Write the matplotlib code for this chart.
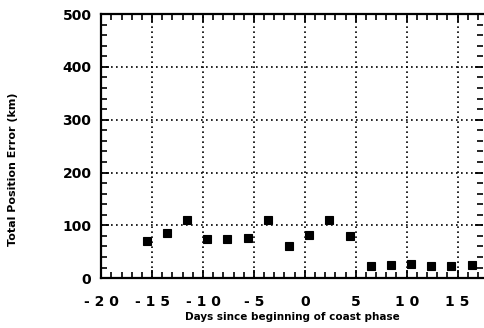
import matplotlib
matplotlib.use("Agg")
import matplotlib.pyplot as plt
from matplotlib.ticker import MultipleLocator, FuncFormatter

# ---------------- data ----------------
days = [-15.5, -13.5, -11.6, -9.6, -7.6, -5.6, -3.6, -1.6, 0.4, 2.4, 4.4,
        6.5, 8.5, 10.4, 12.4, 14.4, 16.4]
pos_err = [70, 86, 110, 75, 75, 76, 110, 61, 81, 110, 80,
           23, 24, 27, 23, 23, 25]

x_ticks = [-20, -15, -10, -5, 0, 5, 10, 15]
y_ticks = [0, 100, 200, 300, 400, 500]

plt.rcParams["font.family"] = ["DejaVu Sans"]
plt.rcParams["font.weight"] = "bold"

fig = plt.figure(figsize=(4.84, 3.28), dpi=100)
ax = fig.add_axes([0.209, 0.152, 0.789, 0.805])

ax.plot(days, pos_err, "s", color="black", markersize=6.2, markeredgewidth=0.8, zorder=3)

ax.set_xlim(-20, 17.5)
ax.set_ylim(0, 500)
ax.set_xticks(x_ticks)
ax.set_yticks(y_ticks)
ax.xaxis.set_minor_locator(MultipleLocator(1))
ax.yaxis.set_minor_locator(MultipleLocator(20))

# spaced-out digits like the original typesetting
ax.xaxis.set_major_formatter(FuncFormatter(lambda v, p: " ".join(str(int(v)))))

ax.grid(True, which="major", color="black", linestyle=(0, (1, 2)), linewidth=1.2)

ax.tick_params(which="both", direction="in", top=True, right=True, colors="black")
ax.tick_params(which="major", length=6, width=1.3)
ax.tick_params(which="minor", length=4, width=1.2)
ax.tick_params(axis="x", which="major", pad=12, labelsize=10)
ax.tick_params(axis="y", which="major", pad=7, labelsize=10)

for s in ["left", "bottom", "top"]:
    ax.spines[s].set_linewidth(1.6)
ax.spines["right"].set_visible(False)

ax.set_xlabel("Days since beginning of coast phase", fontsize=7.5, fontweight="bold", labelpad=2)
ax.set_ylabel("Total Position Error (km)", fontsize=8, fontweight="bold")
ax.yaxis.set_label_coords(-0.217, 0.413)

fig.savefig("out.png", dpi=100)
